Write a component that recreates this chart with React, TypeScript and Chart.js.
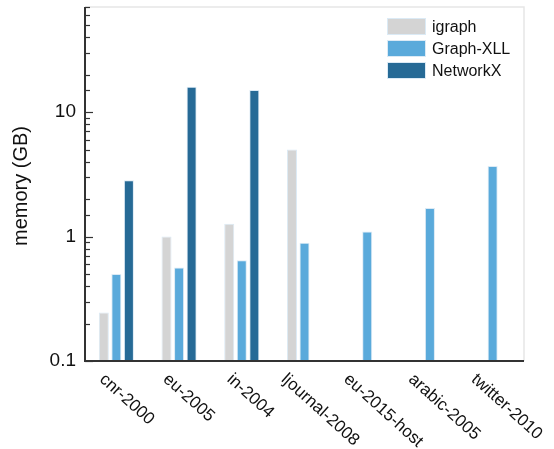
import React, { useEffect, useRef } from "react";
import { Chart, registerables } from "chart.js";

Chart.register(...registerables);

const categories = ["cnr-2000", "eu-2005", "in-2004", "ljournal-2008", "eu-2015-host", "arabic-2005", "twitter-2010"];
const igraphValues = [0.245, 1.0, 1.27, 5.0, null, null, null];
const graphXLLValues = [0.5, 0.565, 0.644, 0.89, 1.1, 1.7, 3.69];
const networkXValues = [2.83, 16.0, 15.1, null, null, null, null];
const seriesNames = ["igraph", "Graph-XLL", "NetworkX"];
const seriesColors = ["#d4d4d4", "#5aaadb", "#266a96"];
const yTickLabels = [0.1, 1, 10];
const yTitle = "memory (GB)";
const FONT = "'Liberation Sans', Arial, sans-serif";

function isLabeled(v: number) {
  return yTickLabels.some((t) => Math.abs(t - v) / t < 1e-6);
}

const decorPlugin = {
  id: "decor",
  afterDraw(chart: any) {
    const ctx = chart.ctx;
    const { left, right, top, bottom } = chart.chartArea;
    const y = chart.scales.y;
    const x = chart.scales.x;
    ctx.save();
    // light top/right frame
    ctx.strokeStyle = "#e6e6e6";
    ctx.lineWidth = 1.5;
    ctx.beginPath();
    ctx.moveTo(left, top);
    ctx.lineTo(right, top);
    ctx.lineTo(right, bottom);
    ctx.stroke();
    // dark left & bottom spines
    ctx.strokeStyle = "#333";
    ctx.lineWidth = 2;
    ctx.beginPath();
    ctx.moveTo(left, top);
    ctx.lineTo(left, bottom);
    ctx.lineTo(right, bottom);
    ctx.stroke();
    // inward ticks
    ctx.lineWidth = 1.2;
    for (const t of y.ticks) {
      const py = Math.round(y.getPixelForValue(t.value)) + 0.5;
      const len = isLabeled(t.value) ? 8 : 5;
      ctx.beginPath();
      ctx.moveTo(left, py);
      ctx.lineTo(left + len, py);
      ctx.stroke();
    }
    // x labels, rotated
    const fs = 17;
    const th = (42 * Math.PI) / 180;
    ctx.fillStyle = "#111";
    ctx.font = `${fs}px ${FONT}`;
    ctx.textAlign = "center";
    ctx.textBaseline = "middle";
    const H = fs * 1.117;
    categories.forEach((c, i) => {
      const px = x.getPixelForValue(i);
      const L = ctx.measureText(c).width;
      const bh = L * Math.sin(th) + H * Math.cos(th);
      ctx.save();
      ctx.translate(px + 0.17 * L - 1, bottom + 9 + bh / 2);
      ctx.rotate(th);
      ctx.fillText(c, 0, 0);
      ctx.restore();
    });
    // y title
    ctx.save();
    ctx.translate(21, (top + bottom) / 2 + 2);
    ctx.rotate(-Math.PI / 2);
    ctx.textAlign = "center";
    ctx.textBaseline = "middle";
    ctx.font = `20px ${FONT}`;
    ctx.fillText(yTitle, 0, 0);
    ctx.restore();
    // legend
    const boxX = right - 137;
    const boxW = 39;
    const boxH = 17;
    seriesNames.forEach((name, i) => {
      const by = top + 11 + i * 22;
      ctx.fillStyle = seriesColors[i];
      ctx.fillRect(boxX, by, boxW, boxH);
      ctx.strokeStyle = "#dbeaf5";
      ctx.lineWidth = 1;
      ctx.strokeRect(boxX + 0.5, by + 0.5, boxW - 1, boxH - 1);
      ctx.fillStyle = "#111";
      ctx.font = `16px ${FONT}`;
      ctx.textAlign = "left";
      ctx.textBaseline = "middle";
      ctx.fillText(name, boxX + boxW + 6, by + boxH / 2 + 1);
    });
    ctx.restore();
  },
};

export default function App() {
  const ref = useRef<HTMLCanvasElement | null>(null);
  useEffect(() => {
    if (!ref.current) return;
    const data = [igraphValues, graphXLLValues, networkXValues];
    const chart = new Chart(ref.current, {
      type: "bar",
      data: {
        labels: categories,
        datasets: seriesNames.map((name, i) => ({
          label: name,
          data: data[i],
          backgroundColor: seriesColors[i],
          borderColor: "#dbeaf5",
          borderWidth: 1,
          categoryPercentage: 0.6,
          barPercentage: 0.8,
        })),
      },
      options: {
        animation: false,
        responsive: true,
        maintainAspectRatio: false,
        layout: { padding: { top: 7, right: 30, left: 0, bottom: 0 } },
        plugins: { legend: { display: false }, tooltip: { enabled: false } },
        scales: {
          x: {
            grid: { display: false, drawTicks: false },
            border: { display: false },
            ticks: { display: false },
            afterFit: (s: any) => {
              s.height = 88;
              s.paddingLeft = 0;
              s.paddingRight = 0;
            },
          },
          y: {
            type: "logarithmic",
            min: 0.1,
            max: 70,
            grid: { display: false, drawTicks: false },
            border: { display: false },
            ticks: {
              autoSkip: false,
              padding: 9,
              color: "#111",
              font: { family: FONT, size: 19 },
              callback: (v: any) => {
                const n = Number(v);
                const m = yTickLabels.find((t) => Math.abs(t - n) / t < 1e-6);
                return m !== undefined ? String(m) : "";
              },
            },
            afterFit: (s: any) => {
              s.width = 85;
              s.paddingTop = 0;
              s.paddingBottom = 0;
            },
          },
        },
      },
      plugins: [decorPlugin],
    } as any);
    return () => chart.destroy();
  }, []);
  return (
    <div style={{ position: "fixed", left: 0, top: 0, width: 554, height: 449, background: "#fff" }}>
      <canvas ref={ref} />
    </div>
  );
}
